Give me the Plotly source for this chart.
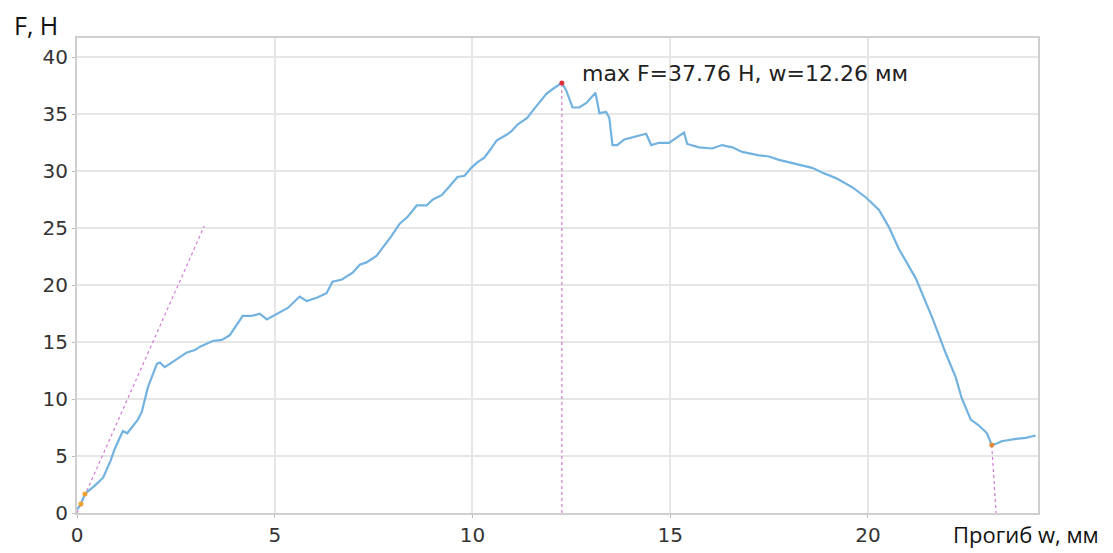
import plotly.graph_objects as go

# Deflection w (mm) and force F (N)
w = [0.0, 0.10, 0.20, 0.45, 0.66, 0.85, 0.95, 1.08, 1.16, 1.27, 1.39, 1.54, 1.64, 1.72,
     1.79, 2.02, 2.10, 2.22, 2.35, 2.55, 2.78, 2.98, 3.11, 3.43, 3.66, 3.86, 4.04, 4.19,
     4.42, 4.62, 4.80, 5.05, 5.33, 5.63, 5.81, 6.06, 6.31, 6.46, 6.70, 6.97, 7.15, 7.32,
     7.58, 7.73, 7.95, 8.16, 8.36, 8.59, 8.84, 8.99, 9.22, 9.40, 9.62, 9.80, 9.97, 10.13,
     10.30, 10.43, 10.61, 10.86, 10.98, 11.14, 11.39, 11.52, 11.69, 11.87, 12.02, 12.26,
     12.37, 12.53, 12.70, 12.88, 13.11, 13.21, 13.38, 13.46, 13.54, 13.66, 13.84, 14.09,
     14.39, 14.52, 14.72, 14.97, 15.35, 15.43, 15.73, 16.06, 16.31, 16.57, 16.82, 17.25,
     17.50, 17.75, 18.08, 18.59, 18.84, 19.19, 19.60, 19.95, 20.28, 20.53, 20.78, 21.21,
     21.62, 21.97, 22.22, 22.37, 22.60, 22.80, 23.01, 23.13, 23.26, 23.38, 23.74, 23.99,
     24.24]
F = [0.3, 0.8, 1.67, 2.4, 3.1, 4.6, 5.6, 6.6, 7.2, 7.0, 7.5, 8.2, 8.9, 10.0,
     11.0, 13.1, 13.2, 12.8, 13.1, 13.5, 14.1, 14.3, 14.6, 15.1, 15.2, 15.6, 16.5, 17.3,
     17.3, 17.5, 17.0, 17.5, 18.0, 19.0, 18.6, 18.9, 19.3, 20.3, 20.5, 21.1, 21.8, 22.0,
     22.6, 23.3, 24.3, 25.4, 26.0, 27.0, 27.0, 27.5, 27.9, 28.6, 29.5, 29.6, 30.3, 30.8,
     31.2, 31.8, 32.7, 33.2, 33.5, 34.1, 34.7, 35.3, 36.0, 36.8, 37.2, 37.76,
     37.1, 35.6, 35.6, 36.0, 36.9, 35.1, 35.2, 34.7, 32.3, 32.3, 32.8, 33.0,
     33.3, 32.3, 32.5, 32.5, 33.4, 32.4, 32.1, 32.0, 32.3, 32.1, 31.7, 31.4,
     31.3, 31.0, 30.7, 30.3, 29.9, 29.4, 28.6, 27.7, 26.6, 25.1, 23.2, 20.6,
     17.2, 14.0, 11.9, 10.1, 8.2, 7.7, 7.0, 5.96, 6.1, 6.3, 6.5, 6.6,
     6.8]

# Auxiliary lines
slope_w = [0.0, 3.22]
slope_F = [0.0, 25.2]
peak_w = [12.26, 12.26]
peak_F = [0.0, 37.76]
drop_w = [23.13, 23.24]
drop_F = [5.96, 0.0]
start_pts_w = [0.10, 0.20]
start_pts_F = [0.8, 1.67]
drop_pt_w = [23.13]
drop_pt_F = [5.96]
max_w = [12.26]
max_F = [37.76]

x_ticks = [0, 5, 10, 15, 20]
y_ticks = [0, 5, 10, 15, 20, 25, 30, 35, 40]

fig = go.Figure()
purple = "#d27ad8"
for xs, ys in [(slope_w, slope_F), (peak_w, peak_F), (drop_w, drop_F)]:
    fig.add_trace(go.Scatter(x=xs, y=ys, mode="lines",
                             line=dict(color=purple, width=1.2, dash="dot"), hoverinfo="skip"))
fig.add_trace(go.Scatter(x=w, y=F, mode="lines",
                         line=dict(color="#72b2e0", width=2.2)))
fig.add_trace(go.Scatter(x=start_pts_w, y=start_pts_F, mode="markers",
                         marker=dict(color="#f0a030", size=5)))
fig.add_trace(go.Scatter(x=drop_pt_w, y=drop_pt_F, mode="markers",
                         marker=dict(color="#e08a3a", size=5)))
fig.add_trace(go.Scatter(x=max_w, y=max_F, mode="markers",
                         marker=dict(color="#e0303a", size=5)))

fig.add_annotation(x=12.72, y=38.55, xref="x", yref="y", text="max F=37.76 Н, w=12.26 мм",
                   showarrow=False, xanchor="left", yanchor="middle",
                   font=dict(family="DejaVu Sans", size=22, color="#222222"))
fig.add_annotation(x=-0.068, y=1.028, xref="paper", yref="paper", text="F, Н",
                   showarrow=False, xanchor="left", yanchor="middle",
                   font=dict(family="Open Sans", size=25, color="#111111"))
fig.add_annotation(x=1.065, y=-0.01, xref="paper", yref="paper", text="Прогиб w, мм",
                   showarrow=False, xanchor="right", yanchor="top", borderpad=0,
                   font=dict(family="Open Sans", size=22, color="#111111"))

axis_common = dict(showgrid=True, gridcolor="#e6e6e6", gridwidth=1.5, automargin=False,
                   showline=True, linecolor="#cfcfcf", linewidth=2, mirror=True,
                   ticks="outside", ticklen=3, tickcolor="#bbbbbb", zeroline=False,
                   tickfont=dict(family="DejaVu Sans", size=20, color="#333333"))
fig.update_xaxes(range=[0, 24.3], tickvals=x_ticks, **axis_common)
fig.update_yaxes(range=[0, 41.7], tickvals=y_ticks, **axis_common)

fig.update_layout(width=1113, height=553, showlegend=False,
                  plot_bgcolor="white", paper_bgcolor="white",
                  margin=dict(l=77, r=75, t=38, b=40))

fig.write_html("out.html", config={"displayModeBar": False},
               post_script="document.body.style.margin='0';document.body.style.overflow='hidden';")
